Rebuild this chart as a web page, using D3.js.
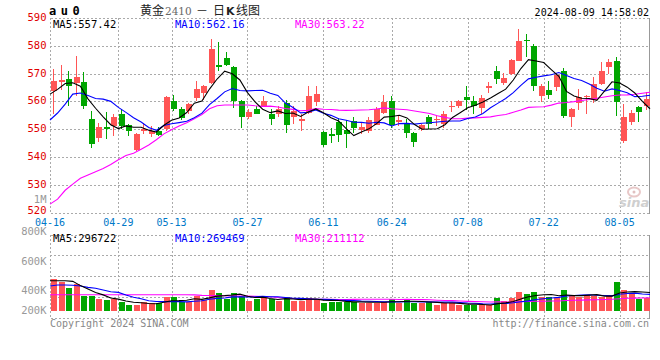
<!DOCTYPE html>
<html><head><meta charset="utf-8">
<script src="https://cdn.jsdelivr.net/npm/d3@7"></script>
<style>html,body{margin:0;padding:0;background:#fff;}svg{display:block;}</style>
</head><body>
<svg id="c" width="660" height="360"></svg>
<script>
// ---------- data ----------
const dates = ["04-16","04-17","04-18","04-19","04-22","04-23","04-24","04-25","04-26","04-29","04-30",
"05-06","05-07","05-08","05-09","05-10","05-13","05-14","05-15","05-16","05-17","05-20","05-21","05-22","05-23","05-24","05-27","05-28","05-29","05-30","05-31",
"06-03","06-04","06-05","06-06","06-07","06-11","06-12","06-13","06-14","06-17","06-18","06-19","06-20","06-21","06-24","06-25","06-26","06-27","06-28",
"07-01","07-02","07-03","07-04","07-05","07-08","07-09","07-10","07-11","07-12","07-15","07-16","07-17","07-18","07-19","07-22","07-23","07-24","07-25","07-26","07-29","07-30","07-31",
"08-01","08-02","08-05","08-06","08-07","08-08","08-09"];
const opens = [563.6,566.8,568.2,566.6,566.8,553.8,546.7,550.7,551.1,555.5,551.4,542.5,549.2,548.2,549.4,549.9,560.3,557.3,556.5,561.3,
563.0,566.6,573.2,575.6,572.4,560.0,554.4,557.3,558.5,555.6,555.3,559.4,554.2,553.1,555.8,559.8,548.9,548.3,552.7,549.7,
553.0,549.7,549.4,551.6,555.8,560.3,552.6,552.0,548.5,550.1,554.2,553.2,552.0,558.0,558.2,561.4,560.3,557.6,564.8,570.8,
566.6,570.0,574.6,582.2,580.1,561.8,564.0,565.0,570.8,554.4,559.4,561.6,560.4,566.3,572.2,574.6,545.7,552.5,557.9,558.4];
const closes = [567.2,567.8,565.4,568.6,558.2,544.5,550.9,549.9,554.4,551.3,549.3,548.4,550.0,549.2,547.9,561.5,557.3,554.1,559.1,564.6,
565.4,578.9,572.2,573.2,560.0,554.2,556.1,555.6,560.0,553.8,557.3,551.4,556.5,553.8,562.0,562.7,544.4,547.7,547.9,548.2,
550.3,550.9,553.2,557.4,559.8,551.4,553.2,548.5,545.3,551.4,551.8,553.8,555.6,558.4,560.0,560.6,558.5,561.2,565.6,568.2,
568.4,575.0,581.8,581.6,565.7,565.7,562.4,569.6,554.6,557.4,561.6,562.0,566.3,571.0,574.3,559.6,554.3,555.8,556.1,560.9];
const highs = [571.6,573.2,570.8,576.4,570.6,556.5,552.3,556.1,555.3,557.4,552.0,548.7,552.3,551.0,550.6,561.8,562.4,558.0,559.5,567.5,
566.0,582.5,581.5,577.7,572.8,560.5,557.1,558.2,562.0,557.1,558.2,560.6,558.2,555.3,565.7,565.7,549.2,550.3,553.9,553.4,
554.2,552.3,554.2,557.9,562.2,561.8,554.8,553.6,548.9,551.9,555.0,554.8,556.5,560.2,560.6,565.6,562.0,562.4,566.8,572.8,
570.2,575.2,586.1,584.3,580.6,566.2,567.2,570.2,572.0,557.7,564.6,562.4,568.8,574.0,575.2,575.8,559.2,557.0,558.5,563.2];
const lows = [555.3,564.2,558.5,561.8,557.4,543.3,545.3,546.3,547.5,550.1,547.7,542.1,548.4,547.0,547.4,549.3,556.5,553.2,555.3,560.0,
560.6,566.3,570.8,572.6,557.7,550.5,553.5,555.3,558.2,551.4,554.4,548.5,552.0,549.2,555.3,558.2,543.5,545.0,545.5,543.1,
548.5,548.1,548.5,551.4,555.3,550.4,551.0,546.7,543.6,549.2,550.1,551.2,550.5,556.0,557.6,557.0,555.3,555.5,563.0,566.4,
566.0,569.6,574.4,575.9,563.6,559.6,560.9,563.6,554.0,550.8,557.0,555.3,559.4,566.0,570.0,554.6,545.1,551.6,552.5,557.0];
// volume in thousands of lots
const volumes = [518,474,376,437,245,245,191,175,186,147,93,93,137,121,121,219,219,147,147,240,
175,338,294,186,294,245,163,186,219,186,163,229,163,163,213,191,131,147,147,147,
147,131,131,131,147,186,131,175,131,131,147,93,131,131,93,93,93,93,93,203,
159,203,306,273,306,219,219,203,338,257,219,257,240,219,257,474,338,273,186,213];
// moving-average values before enough in-window data exists
const ma5Lead = [562.6,564.3,566.4,566.7];
const ma10Lead = [553.3,555.8,559.0,562.6,563.0,562.1,561.0,560.8,560.0];
const ma30Lead = [523.0,524.8,528.0,530.2,532.3,533.5,534.7,535.8,537.3,539.0,540.5,541.3,542.8,544.3,546.2,
548.3,549.8,551.1,552.3,553.7,555.3,557.3,558.4,558.7,558.7,558.7,558.7,558.4,558.2];
const vma5Lead = [490,490,490,480];
const vma10Lead = [404,420,420,415,404,382,366,338,311];
const vma30Lead = [262,262,262,262,262,262,262,262,262,262,262,262,262,262,262,262,262,262,262,258,
250,248,246,244,242,240,238,235,232];
const priceTicks = [590,580,570,560,550,540,530,520];
const dateTicks = ["04-16","04-29","05-13","05-27","06-11","06-24","07-08","07-22","08-05"];
const volTickLabels = ["800K","600K","400K","200K"];
const volTickValues = [800,600,400,200];
const priceLegend = ["MA5:557.42","MA10:562.16","MA30:563.22"];
const volLegend = ["MA5:296722","MA10:269469","MA30:211112"];
const maColors = ["#000000","#0000ff","#ff00ff"];

// ---------- layout ----------
const svg = d3.select("#c");
const L = 50, R = 650;
const pTop = 18, pBot = 212.5;
const vTop = 234.5, vBot = 318, vBase = 310.7;
const RED = "#ff5555", GREEN = "#00a600";
const mono = "'DejaVu Sans Mono', monospace";

const xB = d3.scaleBand().domain(dates).range([L, R]);
const xP = d3.scalePoint().domain(dates).range([L, R]);
const yP = d3.scaleLinear().domain([520, 590]).range([pBot, pTop]);
const yV = d3.scaleLinear().domain([0, 1000]).range([vBase, vBase - 1000 / 16.35]);
const yVLabel = d3.scaleLinear().domain(volTickValues).range([231, 261, 290, 310]);

svg.append("rect").attr("width", 660).attr("height", 360).attr("fill", "#fff");

function movingAvg(arr, n, lead) {
  return arr.map((v, i) => i < n - 1 ? lead[i] : d3.mean(arr.slice(i - n + 1, i + 1)));
}

const grid = svg.append("g").attr("stroke", "#aaaaaa").attr("stroke-dasharray", "2,2").attr("shape-rendering", "crispEdges");
[580,570,560,550,540,530].forEach(v => {
  grid.append("line").attr("x1", L).attr("x2", R).attr("y1", Math.round(yP(v)) + 0.5).attr("y2", Math.round(yP(v)) + 0.5);
});
[1,2,3].forEach(k => {
  const y = Math.round(vTop + k * (vBot - vTop) / 4) + 0.5;
  grid.append("line").attr("x1", L).attr("x2", R).attr("y1", y).attr("y2", y);
});
dateTicks.slice(1).forEach(d => {
  const x = Math.round(xP(d)) + 0.5;
  grid.append("line").attr("x1", x).attr("x2", x).attr("y1", pTop).attr("y2", pBot);
  grid.append("line").attr("x1", x).attr("x2", x).attr("y1", vTop).attr("y2", vBot);
});
[[pTop, pBot], [vTop, vBot]].forEach(([t, b]) => {
  grid.append("line").attr("x1", L + 0.5).attr("x2", R).attr("y1", Math.round(t) + 0.5).attr("y2", Math.round(t) + 0.5);
  grid.append("line").attr("x1", L + 0.5).attr("x2", R).attr("y1", Math.round(b) + 0.5).attr("y2", Math.round(b) + 0.5);
  grid.append("line").attr("x1", L + 0.5).attr("x2", L + 0.5).attr("y1", t).attr("y2", b);
  svg.append("line").attr("x1", R - 0.5).attr("x2", R - 0.5).attr("y1", t).attr("y2", b + 1)
    .attr("stroke", "#999").attr("shape-rendering", "crispEdges");
});

// ---------- candles and volume bars ----------
const cg = svg.append("g").attr("shape-rendering", "crispEdges");
dates.forEach((d, i) => {
  const o = opens[i], c = closes[i];
  const col = c >= o ? RED : GREEN;
  const cx = Math.floor(xB(d) + xB.bandwidth() / 2);
  cg.append("line").attr("x1", cx + 0.5).attr("x2", cx + 0.5)
    .attr("y1", yP(highs[i])).attr("y2", yP(lows[i])).attr("stroke", col);
  const yt = yP(Math.max(o, c)), yb = yP(Math.min(o, c));
  cg.append("rect").attr("x", cx - 2.5).attr("width", 6)
    .attr("y", yt).attr("height", Math.max(1.5, yb - yt)).attr("fill", col);
  cg.append("rect").attr("x", cx - 2.5).attr("width", 6)
    .attr("y", yV(volumes[i])).attr("height", vBase - yV(volumes[i])).attr("fill", col);
});

// ---------- MA lines ----------
const pMAs = [movingAvg(closes, 5, ma5Lead), movingAvg(closes, 10, ma10Lead), movingAvg(closes, 30, ma30Lead)];
const vMAs = [movingAvg(volumes, 5, vma5Lead), movingAvg(volumes, 10, vma10Lead), movingAvg(volumes, 30, vma30Lead)];
const lineP = d3.line().x((v, i) => xP(dates[i])).y(v => yP(v));
const lineV = d3.line().x((v, i) => xP(dates[i])).y(v => yV(v));
[2,1,0].forEach(k => {
  svg.append("path").attr("d", lineP(pMAs[k])).attr("fill", "none").attr("stroke", maColors[k]).attr("stroke-width", 1.1);
  svg.append("path").attr("d", lineV(vMAs[k])).attr("fill", "none").attr("stroke", maColors[k]).attr("stroke-width", 1.1);
});

// ---------- text ----------
const txt = (x, y, s, opts = {}) => svg.append("text").attr("x", x).attr("y", y).text(s)
  .attr("font-family", opts.font || mono).attr("font-size", opts.size || 10.5)
  .attr("fill", opts.fill || "#000").attr("text-anchor", opts.anchor || "start")
  .attr("font-weight", opts.weight || "normal");

svg.append("g").selectAll("text").data(priceTicks).join("text")
  .attr("x", 46.5).attr("y", v => Math.min(yP(v) + 3, 214)).text(v => v)
  .attr("font-family", mono).attr("font-size", 10.5).attr("fill", "#e00000").attr("text-anchor", "end");
txt(46.5, 203, "1M", {fill: "#999", anchor: "end", size: 10.5});

svg.append("g").selectAll("text").data(dateTicks).join("text")
  .attr("x", d => xP(d)).attr("y", 225.5).text(d => d)
  .attr("font-family", mono).attr("font-size", 10).attr("fill", "#0078c8").attr("text-anchor", "middle");

svg.append("g").selectAll("text").data(volTickValues).join("text")
  .attr("x", 46.5).attr("y", v => yVLabel(v) + 4).text((v, i) => volTickLabels[i])
  .attr("font-family", mono).attr("font-size", 10.5).attr("fill", "#999").attr("text-anchor", "end");

const legX = [53, 175, 295];
priceLegend.forEach((s, k) => txt(legX[k], 27.5, s, {fill: maColors[k]}));
volLegend.forEach((s, k) => txt(legX[k], 242, s, {fill: maColors[k]}));

txt(49, 14.5, "au0", {weight: "bold", size: 12, fill: "#000"}).attr("letter-spacing", 4.5);
const cjk = "'Noto Sans CJK SC', sans-serif";
txt(140, 15, "黄金", {font: cjk, size: 12, fill: "#222"});
txt(165, 15, "2410", {font: "'DejaVu Serif', serif", size: 10.5, fill: "#666"});
txt(196, 15, "－", {font: cjk, size: 12, fill: "#222"});
txt(213, 15, "日", {font: cjk, size: 12, fill: "#222"});
txt(226, 15, "K", {font: "'DejaVu Sans', sans-serif", size: 11, fill: "#222", weight: "bold"});
txt(236, 15, "线图", {font: cjk, size: 12, fill: "#222"});
txt(649, 15.5, "2024-08-09 14:58:02", {anchor: "end", size: 10});

txt(50, 327, "Copyright 2024 SINA.COM", {fill: "#888", size: 10});
txt(649, 327, "http://finance.sina.com.cn", {fill: "#888", size: 10, anchor: "end"});

svg.append("ellipse").attr("cx", 634).attr("cy", 192).attr("rx", 6).attr("ry", 4.5)
  .attr("fill", "none").attr("stroke", "#e8c8c8").attr("stroke-width", 2);
svg.append("circle").attr("cx", 634).attr("cy", 192).attr("r", 1.5).attr("fill", "#e0c0c0");
txt(619, 207, "sina", {font: "'DejaVu Sans', sans-serif", size: 13, weight: "bold", fill: "#cfcfcf"})
  .attr("font-style", "italic");
</script>
</body></html>
